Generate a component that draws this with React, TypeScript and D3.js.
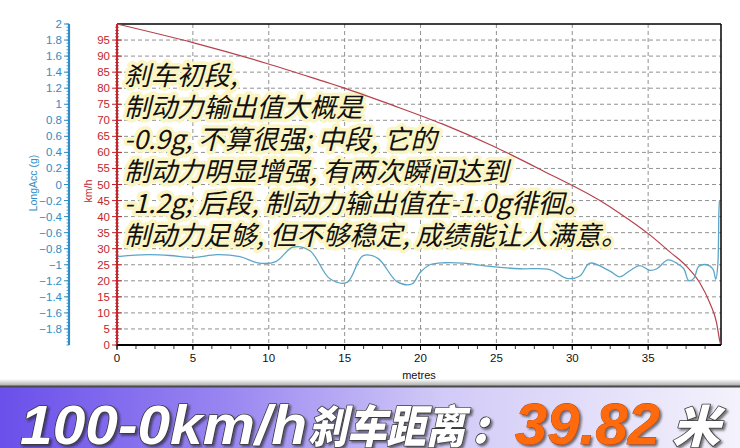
import React from 'react';
import * as d3 from 'd3';

// ---------- data ----------
const accDist = [0, 1.19, 2.17, 3.49, 5.0, 6.59, 8.1, 9.35, 10.47, 11.59, 12.71, 14.03, 15.15, 16.2, 17.19, 18.45, 19.43, 19.96, 20.62, 21.6, 22.79, 24.57, 26.55, 28.52, 29.64, 30.5, 31.16, 32.48, 33.14, 33.79, 34.45, 35.11, 35.57, 36.3, 36.96, 37.35, 37.68, 38.01, 38.34, 38.87, 39.26, 39.46, 39.59, 39.66, 39.7];
const accG = [-0.9, -0.88, -0.875, -0.885, -0.91, -0.875, -0.9, -0.98, -0.96, -0.78, -0.825, -1.175, -1.22, -0.89, -0.92, -1.21, -1.24, -1.1, -1.0, -0.975, -0.98, -1.02, -1.05, -1.06, -1.17, -1.14, -0.98, -1.08, -1.15, -1.075, -1.01, -1.07, -1.05, -0.94, -0.99, -1.05, -1.2, -1.17, -1.02, -1.0, -1.05, -1.18, -1.0, -0.35, -0.2];

const speedDist = [0, 5.0, 9.88, 13.83, 14.89, 18.1, 21.47, 24.77, 28.06, 31.82, 33.14, 35.11, 36.43, 37.55, 38.41, 39.07, 39.51, 39.72, 39.78];
const speedKmh = [100, 94.2, 87.7, 81.8, 80.2, 74.8, 68.8, 62, 54.3, 45, 41, 34.3, 29, 24.4, 19.3, 13, 6.9, 1.2, 0];

const accTicks = [2, 1.8, 1.6, 1.4, 1.2, 1, 0.8, 0.6, 0.4, 0.2, 0, -0.2, -0.4, -0.6, -0.8, -1, -1.2, -1.4, -1.6, -1.8];
const speedTicks = [0, 5, 10, 15, 20, 25, 30, 35, 40, 45, 50, 55, 60, 65, 70, 75, 80, 85, 90, 95];
const distTicks = [0, 5, 10, 15, 20, 25, 30, 35];

const accLabel = 'LongAcc (g)';
const speedLabel = 'km/h';
const distLabel = 'metres';

const noteLines = [
  '刹车初段,',
  '制动力输出值大概是',
  '-0.9g, 不算很强; 中段, 它的',
  '制动力明显增强, 有两次瞬间达到',
  '-1.2g; 后段, 制动力输出值在-1.0g徘徊。',
  '制动力足够, 但不够稳定, 成绩能让人满意。',
];

const bannerLatin = '100-0km/h';
const bannerCjk = '刹车距离';
const bannerColon = ':';
const bannerValue = '39.82';
const bannerUnit = '米';

// ---------- layout ----------
const W = 740;
const H = 448;
const PL = 117;
const PR = 721;
const PT = 24;
const PB = 345;
const ACC_X = 69;

const x = d3.scaleLinear().domain([0, 39.8]).range([PL, PR]);
const ySpeed = d3.scaleLinear().domain([0, 100]).range([PB, PT]);
const yAcc = d3.scaleLinear().domain([-2, 2]).range([PB, PT]);

const BLUE = '#2f8cc6';
const RED = '#c0272d';
const tickFont = '"Liberation Sans", Arial, sans-serif';
const cjkFont = '"Noto Sans CJK SC", sans-serif';

export default function App() {
  const accLine = d3
    .line<number>()
    .x((_, i) => x(accDist[i]))
    .y((d) => yAcc(d))
    .curve(d3.curveCatmullRom.alpha(0.5))(accG) as string;
  const speedLine = d3
    .line<number>()
    .x((_, i) => x(speedDist[i]))
    .y((d) => ySpeed(d))
    .curve(d3.curveMonotoneX)(speedKmh) as string;

  const minorSpeed = d3.range(0, 100, 1);
  const minorAcc = d3.range(-2, 2.0001, 0.04);
  const minorDist = d3.range(0, 39.8, 1.25);

  return (
    <svg
      width={W}
      height={H}
      viewBox={`0 0 ${W} ${H}`}
      style={{ position: 'absolute', left: 0, top: 0, display: 'block', background: '#fff' }}
    >
      <defs>
        <linearGradient id="bannerGrad" x1="0" x2="1" y1="0" y2="0">
          <stop offset="0" stopColor="#6a4fea" />
          <stop offset="0.3" stopColor="#9885f1" />
          <stop offset="0.6" stopColor="#d2caf7" />
          <stop offset="1" stopColor="#f4f2fc" />
        </linearGradient>
        <linearGradient id="shadowGrad" x1="0" x2="0" y1="0" y2="1">
          <stop offset="0" stopColor="#ffffff" />
          <stop offset="1" stopColor="#a8a8a8" />
        </linearGradient>
        <filter id="bannerShadow" x="-5%" y="-20%" width="110%" height="140%">
          <feDropShadow dx="2" dy="2" stdDeviation="1" floodColor="#222" floodOpacity="0.6" />
        </filter>
      </defs>

      <rect x={0} y={0} width={W} height={H} fill="#fff" />

      {/* grid */}
      {speedTicks
        .filter((t) => t > 0)
        .map((t) => (
          <line
            key={'gh' + t}
            x1={PL}
            x2={PR}
            y1={ySpeed(t)}
            y2={ySpeed(t)}
            stroke="#858585"
            strokeWidth={0.9}
            strokeDasharray="4,3"
          />
        ))}
      {distTicks
        .filter((t) => t > 0)
        .map((t) => (
          <line
            key={'gv' + t}
            x1={x(t)}
            x2={x(t)}
            y1={PT}
            y2={PB}
            stroke="#858585"
            strokeWidth={0.9}
            strokeDasharray="4,3"
          />
        ))}

      {/* plot frame */}
      <line x1={PL} x2={PR} y1={PT} y2={PT} stroke="#000" strokeWidth={1.5} />
      <line x1={PR} x2={PR} y1={PT} y2={PB} stroke="#000" strokeWidth={1.5} />

      {/* annotation text */}
      <g style={{ fontFamily: cjkFont, fontSize: 26.5, fontStyle: 'italic' }}>
        {noteLines.map((s, i) => (
          <text
            key={'n' + i}
            x={124}
            y={85 + i * 32}
            fill="#111"
            stroke="#fbf5c4"
            strokeWidth={7}
            strokeLinejoin="round"
            paintOrder="stroke"
          >
            {s}
          </text>
        ))}
      </g>

      {/* series */}
      <path d={speedLine} fill="none" stroke="#b8404c" strokeWidth={1.2} />
      <path d={accLine} fill="none" stroke="#5ba6c8" strokeWidth={1.3} />

      {/* left acc axis */}
      <line x1={ACC_X} x2={ACC_X} y1={PT} y2={PB} stroke={BLUE} strokeWidth={2.2} />
      {minorAcc.map((t, i) => (
        <line key={'ma' + i} x1={ACC_X - 2.5} x2={ACC_X} y1={yAcc(t)} y2={yAcc(t)} stroke={BLUE} strokeWidth={0.8} />
      ))}
      {accTicks.map((t) => (
        <g key={'at' + t}>
          <line x1={ACC_X - 5} x2={ACC_X} y1={yAcc(t)} y2={yAcc(t)} stroke={BLUE} strokeWidth={1} />
          <text
            x={ACC_X - 7}
            y={yAcc(t)}
            dy="0.35em"
            textAnchor="end"
            fill={BLUE}
            style={{ fontFamily: tickFont, fontSize: 11.5 }}
          >
            {d3.format('~g')(t)}
          </text>
        </g>
      ))}
      <text
        transform={`translate(37,183) rotate(-90)`}
        textAnchor="middle"
        fill={BLUE}
        style={{ fontFamily: tickFont, fontSize: 10.5 }}
      >
        {accLabel}
      </text>

      {/* speed axis */}
      <line x1={PL} x2={PL} y1={PT} y2={PB} stroke={RED} strokeWidth={2} />
      {minorSpeed.map((t) => (
        <line key={'ms' + t} x1={PL - 2} x2={PL + 2} y1={ySpeed(t)} y2={ySpeed(t)} stroke={RED} strokeWidth={0.8} />
      ))}
      {speedTicks.map((t) => (
        <g key={'st' + t}>
          <line x1={PL - 5} x2={PL + 5} y1={ySpeed(t)} y2={ySpeed(t)} stroke={RED} strokeWidth={1} />
          <text
            x={PL - 7}
            y={ySpeed(t)}
            dy="0.35em"
            textAnchor="end"
            fill={RED}
            style={{ fontFamily: tickFont, fontSize: 11.5 }}
          >
            {t}
          </text>
        </g>
      ))}
      <text
        transform={`translate(92,191) rotate(-90)`}
        textAnchor="middle"
        fill={RED}
        style={{ fontFamily: tickFont, fontSize: 10.5 }}
      >
        {speedLabel}
      </text>

      {/* bottom axis */}
      <line x1={PL} x2={PR} y1={PB} y2={PB} stroke="#000" strokeWidth={2} />
      {minorDist.map((t, i) => (
        <line key={'md' + i} x1={x(t)} x2={x(t)} y1={PB} y2={PB + 4} stroke="#000" strokeWidth={0.8} />
      ))}
      {distTicks.map((t) => (
        <g key={'dt' + t}>
          <line x1={x(t)} x2={x(t)} y1={PB} y2={PB + 5} stroke="#000" strokeWidth={1} />
          <text
            x={x(t)}
            y={362}
            textAnchor="middle"
            fill="#111"
            style={{ fontFamily: tickFont, fontSize: 11.5 }}
          >
            {t}
          </text>
        </g>
      ))}
      <text x={419} y={379} textAnchor="middle" fill="#111" style={{ fontFamily: tickFont, fontSize: 11 }}>
        {distLabel}
      </text>

      {/* banner */}
      <rect x={0} y={379} width={W} height={7} fill="url(#shadowGrad)" />
      <rect x={0} y={386} width={W} height={H - 386} fill="url(#bannerGrad)" />
      <line x1={0} x2={W} y1={386.5} y2={386.5} stroke="#4a4a4a" strokeWidth={2} />

      <g
        filter="url(#bannerShadow)"
        stroke="#3a3a3a"
        strokeWidth={1.6}
        paintOrder="stroke"
        strokeLinejoin="round"
        style={{ fontStyle: 'italic', fontWeight: 900 }}
      >
        <text x={20} y={444} fill="#fff" textLength={287} lengthAdjust="spacingAndGlyphs" style={{ fontFamily: tickFont, fontSize: 56 }}>
          {bannerLatin}
        </text>
        <text x={308} y={443} fill="#fff" textLength={157} lengthAdjust="spacingAndGlyphs" style={{ fontFamily: cjkFont, fontSize: 45 }}>
          {bannerCjk}
        </text>
        <text x={472} y={443} fill="#fff" style={{ fontFamily: cjkFont, fontSize: 45 }}>
          {bannerColon}
        </text>
        <text x={515} y={444} fill="#ff6a0e" stroke="#b04000" strokeWidth={0.8} textLength={145} lengthAdjust="spacingAndGlyphs" style={{ fontFamily: tickFont, fontSize: 57 }}>
          {bannerValue}
        </text>
        <text x={672} y={443} fill="#fff" textLength={48} lengthAdjust="spacingAndGlyphs" style={{ fontFamily: cjkFont, fontSize: 45 }}>
          {bannerUnit}
        </text>
      </g>
    </svg>
  );
}
